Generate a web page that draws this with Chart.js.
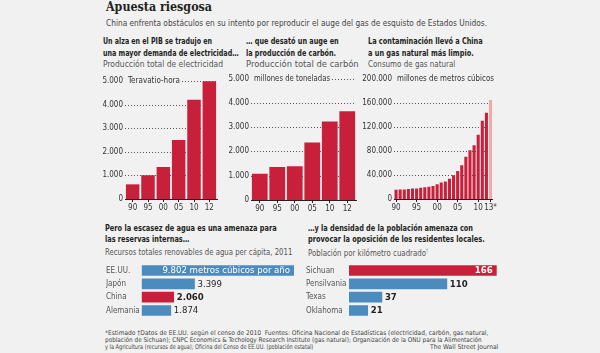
<!DOCTYPE html>
<html lang="es">
<head>
<meta charset="utf-8">
<script src="https://cdn.jsdelivr.net/npm/chart.js@4.4.1/dist/chart.umd.min.js"></script>
<style>
  html, body { margin: 0; padding: 0; }
  body {
    width: 600px; height: 353px; background: #f1f1f1; position: relative; overflow: hidden;
    font-family: "Liberation Sans Narrow", "DejaVu Sans Condensed", "Liberation Sans", sans-serif;
    color: #231f20;
  }
  .t { position: absolute; white-space: nowrap; line-height: 1; transform-origin: 0 0; }
  .title { font-family: "DejaVu Serif", serif; font-weight: bold; font-size: 12.5px; }
  .sub { font-size: 9px; color: #444; }
  .h { font-weight: bold; font-size: 8.5px; }
  .s { font-size: 9px; color: #555; }
  .f { font-size: 6.5px; color: #444; }
  canvas { position: absolute; }
</style>
</head>
<body>

<div class="t title" data-x="106" data-b="11.3" data-w="106">Apuesta riesgosa</div>
<div class="t sub" data-x="106" data-b="26.3" data-w="381">China enfrenta obstáculos en su intento por reproducir el auge del gas de esquisto de Estados Unidos.</div>

<div class="t h" data-x="102.7" data-b="44.7" data-w="109">Un alza en el PIB se tradujo en</div>
<div class="t h" data-x="102.7" data-b="56.3" data-w="135.6">una mayor demanda de electricidad…</div>
<div class="t s" data-x="102.7" data-b="67.5" data-w="120">Producción total de electricidad</div>

<div class="t h" data-x="245.7" data-b="44.7" data-w="92.7">… que desató un auge en</div>
<div class="t h" data-x="245.7" data-b="56.3" data-w="90">la producción de carbón.</div>
<div class="t s" data-x="245.7" data-b="67.5" data-w="112.7">Producción total de carbón</div>

<div class="t h" data-x="367.7" data-b="44.7" data-w="114.7">La contaminación llevó a China</div>
<div class="t h" data-x="367.7" data-b="56.3" data-w="105.7">a un gas natural más limpio.</div>
<div class="t s" data-x="367.7" data-b="67.5" data-w="87.3">Consumo de gas natural</div>

<div class="t h" data-x="105" data-b="231.3" data-w="171.7">Pero la escasez de agua es una amenaza para</div>
<div class="t h" data-x="105" data-b="242.7" data-w="84.3">las reservas internas…</div>
<div class="t s" data-x="105" data-b="255.5" data-w="187.3">Recursos totales renovables de agua per cápita, 2011</div>

<div class="t h" data-x="308.3" data-b="231.3" data-w="165">…y la densidad de la población amenaza con</div>
<div class="t h" data-x="308.3" data-b="242.7" data-w="176.7">provocar la oposición de los residentes locales.</div>
<div class="t s" data-x="308.3" data-b="255.5" data-w="120">Población por kilómetro cuadrado<sup style="font-size:5px">†</sup></div>

<div class="t f" data-x="105" data-b="336" data-w="383.3">*Estimado †Datos de EE.UU. según el censo de 2010&nbsp;&nbsp;Fuentes: Oficina Nacional de Estadísticas (electricidad, carbón, gas natural,</div>
<div class="t f" data-x="105" data-b="342.6" data-w="376.7">población de Sichuan); CNPC Economics &amp; Techology Research Institute (gas natural); Organización de la ONU para la Alimentación</div>
<div class="t f" data-x="105" data-b="349.4" data-w="208.3">y la Agricultura (recursos de agua); Oficina del Censo de EE.UU. (población estatal)</div>
<div class="t f" data-x="430" data-b="349.4" data-w="68.3">The Wall Street Journal</div>

<canvas id="elec" width="122" height="150" style="left:100px;top:70px"></canvas>
<canvas id="coal" width="136" height="150" style="left:225px;top:70px"></canvas>
<canvas id="gas" width="139" height="150" style="left:359px;top:70px"></canvas>
<canvas id="water" width="200" height="63" style="left:100px;top:259px"></canvas>
<canvas id="density" width="210" height="63" style="left:300px;top:259px"></canvas>

<script>
// data
const elecYears = ['90', '95', '00', '05', '10', '12'];
const elecValues = [621, 1007, 1356, 2500, 4207, 4987];

const coalYears = ['90', '95', '00', '05', '10', '12'];
const coalValues = [1080, 1361, 1384, 2365, 3235, 3650];

const gasYears = ['90', '91', '92', '93', '94', '95', '96', '97', '98', '99', '00', '01',
  '02', '03', '04', '05', '06', '07', '08', '09', '10', '11', '12', '13*'];
const gasShownYears = ['90', '95', '00', '05', '10', '13*'];
const gasValues = [15300, 15900, 15800, 16800, 17400, 17700, 18900, 19500, 20300, 21500, 24500, 27400,
  29200, 33900, 39700, 46800, 56100, 70500, 81300, 89500, 106900, 130500, 143800, 165000];

const waterCountries = ['EE.UU.', 'Japón', 'China', 'Alemania'];
const waterValues = [9802, 3399, 2060, 1874];

const densityPlaces = ['Sichuan', 'Pensilvania', 'Texas', 'Oklahoma'];
const densityValues = [166, 110, 37, 21];

const RED = '#c8203a';
const PINK = '#f2a9a6';
const BLUE = '#4b8bbe';
const BG = '#f1f1f1';
const FONT = '"Liberation Sans Narrow", "DejaVu Sans Condensed", "Liberation Sans", sans-serif';
const CLEAR = 'rgba(0,0,0,0)';

// place the html text lines on their baselines and fit them to width
document.querySelectorAll('.t').forEach(el => {
  const size = parseFloat(getComputedStyle(el).fontSize);
  el.style.left = el.dataset.x + 'px';
  el.style.top = (el.dataset.b - 0.85 * size) + 'px';
  const w = el.getBoundingClientRect().width;
  el.style.transform = 'scaleX(' + (el.dataset.w / w) + ')';
});

const fmt = v => String(v).replace(/\B(?=(\d{3})+(?!\d))/g, '.');

// dotted gridlines at the y ticks (the zero line is the x axis)
const dottedGrid = {
  id: 'dottedGrid',
  beforeDatasetsDraw(chart, args, opts) {
    const y = chart.scales.y;
    const area = chart.chartArea;
    const ctx = chart.ctx;
    ctx.save();
    ctx.strokeStyle = '#555';
    ctx.lineWidth = 1;
    ctx.setLineDash([1, 2]);
    y.ticks.forEach(t => {
      if (t.value === 0 || (opts.skipTop && t.value === y.max)) return;
      const py = Math.round(y.getPixelForValue(t.value)) + 0.5;
      ctx.beginPath();
      ctx.moveTo(area.left, py);
      ctx.lineTo(area.right, py);
      ctx.stroke();
    });
    ctx.restore();
  }
};

// unit text written on the top gridline, over a patch of background
const unitLabel = {
  id: 'unitLabel',
  beforeDatasetsDraw(chart, args, opts) {
    const y = chart.scales.y.getPixelForValue(chart.scales.y.max);
    const ctx = chart.ctx;
    const area = chart.chartArea;
    ctx.save();
    ctx.font = '8.5px ' + FONT;
    const x = area.left + 3;
    const w = Math.min(ctx.measureText(opts.text).width, opts.width) + 5;
    ctx.fillStyle = BG;
    ctx.fillRect(area.left, y - 5, w, 10);
    ctx.fillStyle = '#333';
    ctx.textBaseline = 'middle';
    ctx.fillText(opts.text, x, y, opts.width);
    ctx.restore();
  }
};

// numbers at the end of the horizontal bars
const valueLabels = {
  id: 'valueLabels',
  afterDatasetsDraw(chart, args, opts) {
    const ctx = chart.ctx;
    chart.getDatasetMeta(0).data.forEach((bar, i) => {
      ctx.save();
      ctx.font = (opts.bold.includes(i) ? 'bold ' : '') + '9.5px ' + FONT;
      ctx.textBaseline = 'middle';
      if (i === opts.inside) {
        ctx.fillStyle = '#fff';
        ctx.textAlign = 'right';
        ctx.fillText(opts.texts[i], bar.x - 4, bar.y + 0.5);
      } else {
        ctx.fillStyle = '#231f20';
        ctx.textAlign = 'left';
        ctx.fillText(opts.texts[i], bar.x + 3, bar.y + 0.5);
      }
      ctx.restore();
    });
  }
};

function columnChart(id, labels, shown, values, colors, max, step, unit, unitWidth, barPct, yWidth, pad, skipTop) {
  return new Chart(document.getElementById(id), {
    type: 'bar',
    data: {
      labels: labels,
      datasets: [{ data: values, backgroundColor: colors, barPercentage: barPct, categoryPercentage: 1 }]
    },
    plugins: [dottedGrid, unitLabel],
    options: {
      responsive: false,
      devicePixelRatio: 1,
      animation: false,
      layout: { padding: { top: pad.top, right: pad.right, left: 0, bottom: 0 } },
      plugins: {
        legend: { display: false },
        tooltip: { enabled: false },
        dottedGrid: { skipTop: skipTop },
        unitLabel: { text: unit, width: unitWidth }
      },
      scales: {
        x: {
          afterFit: s => { s.height = pad.xh; },
          ticks: {
            autoSkip: false, maxRotation: 0, minRotation: 0, padding: 1,
            color: '#333', font: { family: FONT, size: 8 },
            callback: (v, i) => shown.includes(labels[i]) ? labels[i] : ''
          },
          grid: {
            offset: false, drawOnChartArea: false, tickLength: 3,
            color: c => (c.tick && shown.includes(labels[c.index])) ? '#222' : CLEAR
          },
          border: { display: true, color: '#222', width: 1 }
        },
        y: {
          min: 0, max: max,
          afterFit: s => { s.width = yWidth; },
          ticks: {
            stepSize: step, padding: 2, color: '#333', font: { family: FONT, size: 8 },
            callback: v => fmt(v)
          },
          grid: { display: false, drawTicks: false },
          border: { display: false }
        }
      }
    }
  });
}

columnChart('elec', elecYears, elecYears, elecValues, RED, 5000, 1000,
  'Teravatio-hora', 52, 0.88, 25, { top: 11, right: 5, xh: 21 }, false);
columnChart('coal', coalYears, coalYears, coalValues, RED, 5000, 1000,
  'millones de toneladas', 76, 0.9, 26, { top: 8.5, right: 5, xh: 20 }, false);
columnChart('gas', gasYears, gasShownYears, gasValues,
  gasValues.map((v, i) => i === gasValues.length - 1 ? PINK : RED), 200000, 40000,
  'millones de metros cúbicos', 97, 0.75, 35, { top: 9, right: 5, xh: 21 }, true);

function rowChart(id, labels, values, colors, max, yWidth, padRight, texts, inside, bold) {
  return new Chart(document.getElementById(id), {
    type: 'bar',
    data: {
      labels: labels,
      datasets: [{ data: values, backgroundColor: colors, barThickness: 10 }]
    },
    plugins: [valueLabels],
    options: {
      indexAxis: 'y',
      responsive: false,
      devicePixelRatio: 1,
      animation: false,
      layout: { padding: { top: 0, right: padRight, left: 6, bottom: 0 } },
      plugins: {
        legend: { display: false },
        tooltip: { enabled: false },
        valueLabels: { texts: texts, inside: inside, bold: bold }
      },
      scales: {
        x: { display: false, min: 0, max: max },
        y: {
          afterFit: s => { s.width = yWidth; },
          ticks: { crossAlign: 'far', padding: 0, color: '#555', font: { family: FONT, size: 8 } },
          grid: { display: false },
          border: { display: false }
        }
      }
    }
  });
}

const waterTexts = waterValues.map(fmt);
waterTexts[0] += ' metros cúbicos por año';
rowChart('water', waterCountries, waterValues,
  waterCountries.map(c => c === 'China' ? RED : BLUE), 9802, 35.7, 6,
  waterTexts, 0, [2]);

rowChart('density', densityPlaces, densityValues,
  densityPlaces.map(p => p === 'Sichuan' ? RED : BLUE), 166, 43, 13.3,
  densityValues.map(fmt), 0, [0, 1, 2, 3]);
</script>
</body>
</html>
